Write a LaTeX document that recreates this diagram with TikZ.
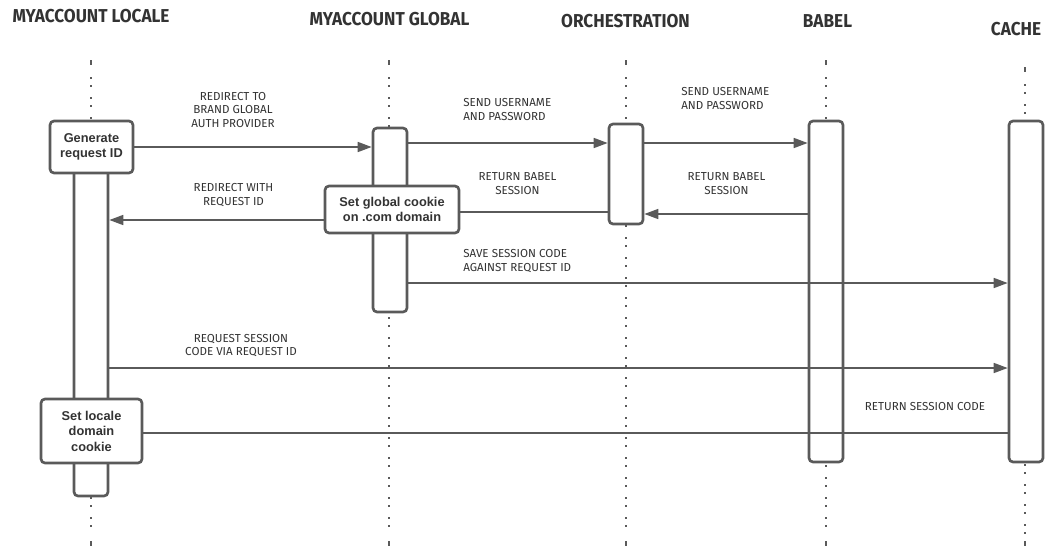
\documentclass[tikz,border=0pt]{standalone}
\usepackage{fontspec}
\setmainfont{Liberation Sans}
\newfontfamily\handfont{Fira Sans}
\newfontfamily\titlefont{Fira Sans}[FakeStretch=0.92]
\usetikzlibrary{arrows.meta}
\definecolor{ink}{HTML}{5A5A5A}
\definecolor{txt}{HTML}{333333}

\begin{document}
\begin{tikzpicture}[x=0.75pt,y=-0.75pt,
  lifeline/.style={draw=ink, line width=1.6pt, dash pattern=on 1.5pt off 4.5pt on 1.5pt off 7.5pt},
  lifecap/.style={draw=ink, line width=1.6pt},
  actbox/.style={draw=ink, fill=white, line width=2pt, rounded corners=3pt,
    minimum width=25.5pt, inner sep=0pt},
  notebox/.style={draw=ink, fill=white, line width=2pt, rounded corners=3pt, inner sep=0pt,
    font=\bfseries\fontsize{9.6}{11.6}\selectfont, text=txt, align=center},
  msg/.style={draw=ink, line width=1.2pt, -{Triangle[length=10.5pt,width=7.5pt]}},
  plainmsg/.style={draw=ink, line width=1.2pt},
  lbl/.style={font=\handfont\fontsize{8.7}{10.1}\selectfont, text=txt, inner sep=0pt},
  title/.style={font=\titlefont\bfseries\fontsize{14}{16}\selectfont, text=txt, inner sep=0pt}
]
\useasboundingbox (0,0) rectangle (1052,546);

% participant titles
\node[title] (tLocale) at (91,16.5)  {MYACCOUNT LOCALE};
\node[title] (tGlobal) at (389.5,19.5) {MYACCOUNT GLOBAL};
\node[title] (tOrch)   at (625.5,21) {ORCHESTRATION};
\node[title] (tBabel)  at (827.5,21) {BABEL};
\node[title] (tCache)  at (1016,29)  {CACHE};

% dotted lifelines
\foreach \lx/\ly in {91/60, 389/60, 626/60, 826/60, 1025/67}{
  \draw[lifecap]  (\lx,\ly) -- (\lx,\ly+5);
  \draw[lifeline] (\lx,\ly+17) -- (\lx,536);
  \draw[lifecap]  (\lx,541) -- (\lx,546);
}

% activation bars
\node[actbox, minimum height=259.5pt] (lact) at (91,323) {};
\node[actbox, minimum height=138pt]   (gact) at (390,220) {};
\node[actbox, minimum height=75pt]    (oact) at (626,174) {};
\node[actbox, minimum height=255.75pt] (bact) at (826,291.5) {};
\node[actbox, minimum height=255.75pt] (cact) at (1026,291.5) {};

% action notes
\node[notebox, minimum width=62.25pt, minimum height=39pt] (gen) at (91.5,147)
  {Generate\\request ID};
\node[notebox, minimum width=100.5pt, minimum height=35.25pt] (setg) at (392,209.5)
  {Set global cookie\\on .com domain};
\node[notebox, minimum width=75.75pt, minimum height=48pt] (setl) at (91.5,431)
  {Set locale\\domain\\cookie};

% message rows
\coordinate (r2) at (0,143);
\coordinate (r4) at (0,214);
\coordinate (r5) at (0,212);
\coordinate (r6) at (0,220);
\coordinate (r7) at (0,283);
\coordinate (r8) at (0,368);
\coordinate (r9) at (0,433);

% messages
\draw[msg] (gen.east) -- (gact.west |- gen.east);
\draw[msg] (gact.east |- r2) -- (oact.west |- r2);
\draw[msg] (oact.east |- r2) -- (bact.west |- r2);
\draw[msg] (bact.west |- r4) -- (oact.east |- r4);
\draw[plainmsg] (oact.west |- r5) -- (setg.east |- r5);
\draw[msg] (setg.west |- r6) -- (lact.east |- r6);
\draw[msg] (gact.east |- r7) -- (cact.west |- r7);
\draw[msg] (lact.east |- r8) -- (cact.west |- r8);
\draw[plainmsg] (cact.west |- r9) -- (setl.east |- r9);

% message labels
\node[lbl, align=center] (l1) at (233,110) {REDIRECT TO\\BRAND GLOBAL\\AUTH PROVIDER};
\node[lbl, align=left, anchor=west] (l2) at (463,109.5) {SEND USERNAME\\AND PASSWORD};
\node[lbl, align=left, anchor=west] (l3) at (681,98.5) {SEND USERNAME\\AND PASSWORD};
\node[lbl, align=center] (l4) at (726.5,183.5) {RETURN BABEL\\SESSION};
\node[lbl, align=center] (l5) at (517.5,183.5) {RETURN BABEL\\SESSION};
\node[lbl, align=center] (l6) at (233.5,195) {REDIRECT WITH\\REQUEST ID};
\node[lbl, align=left, anchor=west] (l7) at (463,261) {SAVE SESSION CODE\\AGAINST REQUEST ID};
\node[lbl, align=center] (l8) at (241,345.5) {REQUEST SESSION\\CODE VIA REQUEST ID};
\node[lbl, align=center] (l9) at (925,406) {RETURN SESSION CODE};
\end{tikzpicture}
\end{document}
